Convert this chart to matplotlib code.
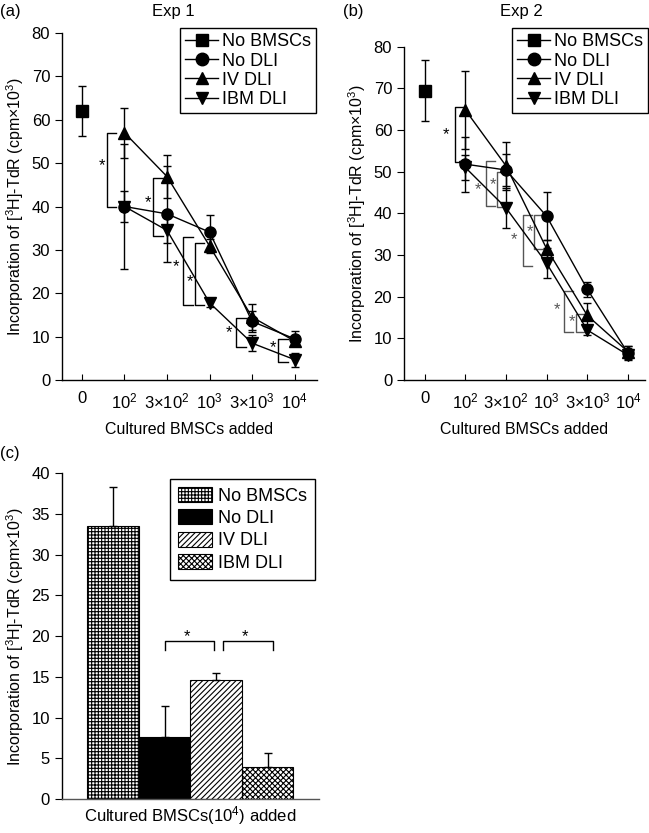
import numpy as np
import matplotlib
matplotlib.use('Agg')
import matplotlib.pyplot as plt
from matplotlib.lines import Line2D

plt.rcParams.update({'font.family': 'Liberation Sans', 'font.size': 12,
                     'mathtext.fontset': 'custom', 'mathtext.rm': 'Liberation Sans',
                     'mathtext.it': 'Liberation Sans:italic',
                     'axes.linewidth': 1.0, 'hatch.linewidth': 0.8})

# ---------------- data ----------------
x_labels = ['0', '10$^2$', '3×10$^2$', '10$^3$', '3×10$^3$', '10$^4$']

# Exp 1
e1_nobmsc, e1_nobmsc_err = 62.0, 5.7
e1_nodli = [40.0, 38.3, 34.1, 13.5, 9.5]
e1_nodli_err = [14.5, 11.0, 4.0, 2.5, 1.7]
e1_iv = [57.0, 46.9, 30.9, 14.5, 9.0]
e1_iv_err = [5.8, 5.0, 1.6, 3.0, 1.0]
e1_ibm = [40.0, 34.5, 17.8, 8.5, 4.7]
e1_ibm_err = [3.6, 3.0, 1.0, 1.8, 1.6]
e1_brackets = [  # (x, y_top, y_bottom, star_x, star_y, color)
    (0.58, 57.0, 40.0, 0.48, 49.5, 'black'),
    (1.68, 46.5, 33.1, 1.55, 41.0, 'black'),
    (2.38, 32.9, 17.3, 2.2, 26.2, 'black'),
    (2.65, 31.5, 17.3, 2.55, 22.7, 'black'),
    (3.63, 14.2, 7.5, 3.45, 11.0, 'black'),
    (4.62, 9.4, 4.2, 4.5, 7.5, 'black'),
]

# Exp 2
e2_nobmsc, e2_nobmsc_err = 69.4, 7.3
e2_nodli = [51.8, 50.4, 39.3, 21.8, 6.5]
e2_nodli_err = [6.6, 3.8, 5.7, 1.8, 1.6]
e2_iv = [64.8, 51.4, 31.5, 15.5, 6.8]
e2_iv_err = [9.4, 5.8, 2.1, 3.1, 1.4]
e2_ibm = [51.0, 41.3, 28.0, 12.0, 6.0]
e2_ibm_err = [3.0, 4.8, 3.6, 1.2, 1.0]
e2_brackets = [
    (0.75, 65.6, 52.2, 0.52, 58.8, 'black'),
    (1.52, 52.6, 41.8, 1.3, 45.8, '#555555'),
    (1.77, 49.8, 41.6, 1.67, 46.8, '#555555'),
    (2.43, 39.6, 27.4, 2.2, 33.6, '#555555'),
    (2.7, 39.6, 31.4, 2.6, 35.6, '#555555'),
    (3.43, 21.4, 11.6, 3.25, 16.8, '#555555'),
    (3.72, 15.8, 11.6, 3.62, 14.0, '#555555'),
]

# Panel c
c_groups = ['No BMSCs', 'No DLI', 'IV DLI', 'IBM DLI']
c_values = [33.5, 7.6, 14.6, 3.9]
c_errors = [4.8, 3.8, 0.9, 1.7]
c_hatches = ['+++++', None, '//////', 'xxxxxx']
c_colors = ['white', 'black', 'white', 'white']

ylab = 'Incorporation of [$^3$H]-TdR (cpm×10$^3$)'
series_labels = ['No BMSCs', 'No DLI', 'IV DLI', 'IBM DLI']
series_markers = ['s', 'o', '^', 'v']

fig = plt.figure(figsize=(6.49, 8.33), dpi=100)


def line_panel(ax, nobmsc, nobmsc_err, nodli, nodli_err, iv, iv_err,
               ibm, ibm_err, brackets):
    xs = np.arange(1, 6)
    kw = dict(color='black', lw=1.0, capsize=3, elinewidth=1.0, capthick=1.0, ms=8)
    ax.errorbar([0], [nobmsc], yerr=[nobmsc_err], marker='s', ls='-', **kw)
    ax.errorbar(xs, nodli, yerr=nodli_err, marker='o', **kw)
    ax.errorbar(xs, iv, yerr=iv_err, marker='^', **kw)
    ax.errorbar(xs, ibm, yerr=ibm_err, marker='v', **kw)
    for bx, yt, yb, sx, sy, col in brackets:
        ax.plot([bx + 0.22, bx, bx, bx + 0.22], [yt, yt, yb, yb], color=col, lw=1.0)
        ax.text(sx, sy, '*', ha='center', va='center', fontsize=12, color=col)
    ax.set_ylim(0, 80)
    ax.set_yticks(range(0, 81, 10))
    ax.set_xticks(range(6))
    ax.set_xticklabels(x_labels)
    ax.tick_params(axis='x', direction='in', length=4, pad=8)
    ax.tick_params(axis='y', direction='out', length=5)
    for s in ('top', 'right'):
        ax.spines[s].set_visible(False)
    ax.set_xlabel('Cultured BMSCs added', labelpad=8, fontsize=11.5)
    ax.set_ylabel(ylab, fontsize=11.5)


def line_legend(anchor):
    handles = [Line2D([], [], color='black', lw=1.0, marker=m, ms=9)
               for m in series_markers]
    fig.legend(handles, series_labels, loc='upper right', bbox_to_anchor=anchor,
               frameon=True, fancybox=False, edgecolor='black', framealpha=1,
               handlelength=1.8, handletextpad=0.2, borderpad=0.3, borderaxespad=0,
               labelspacing=0.12, fontsize=13)


ax1 = fig.add_axes([0.0955, 0.5438, 0.3925, 0.4166])
line_panel(ax1, e1_nobmsc, e1_nobmsc_err, e1_nodli, e1_nodli_err, e1_iv, e1_iv_err,
           e1_ibm, e1_ibm_err, e1_brackets)
ax1.set_xlim(-0.47, 5.52)
line_legend((316 / 649, 1 - 28 / 833))
fig.text(0.0, 0.995, '(a)', ha='left', va='top', fontsize=12)
fig.text(0.267, 0.995, 'Exp 1', ha='center', va='top', fontsize=12)

ax2 = fig.add_axes([0.6225, 0.5438, 0.3713, 0.4002])
line_panel(ax2, e2_nobmsc, e2_nobmsc_err, e2_nodli, e2_nodli_err, e2_iv, e2_iv_err,
           e2_ibm, e2_ibm_err, e2_brackets)
ax2.set_xlim(-0.51, 5.42)
line_legend((648 / 649, 1 - 28 / 833))
fig.text(0.528, 0.995, '(b)', ha='left', va='top', fontsize=12)
fig.text(0.804, 0.995, 'Exp 2', ha='center', va='top', fontsize=12)

# ---------------- panel c ----------------
ax3 = fig.add_axes([0.0951, 0.0408, 0.3964, 0.391])
pos = np.arange(len(c_values))
for i in pos:
    ax3.bar(pos[i], c_values[i], width=1.0, color=c_colors[i], edgecolor='black',
            hatch=c_hatches[i], lw=0.8, label=c_groups[i])
    ax3.errorbar(pos[i], c_values[i], yerr=[[0], [c_errors[i]]], color='black',
                 lw=1.0, capsize=3, capthick=1.0)
for x0, x1 in [(1.0, 1.95), (2.13, 3.1)]:
    ax3.plot([x0, x0, x1, x1], [18.3, 19.4, 19.4, 18.3], color='black', lw=1.0)
    ax3.text((x0 + x1) / 2 - 0.05, 20.0, '*', ha='center', va='center', fontsize=12)
ax3.set_xlim(-1, 4)
ax3.set_ylim(0, 40)
ax3.set_yticks(range(0, 41, 5))
ax3.set_xticks([])
ax3.tick_params(axis='y', direction='out', length=5)
for s in ('top', 'right'):
    ax3.spines[s].set_visible(False)
ax3.spines['bottom'].set_color('#555555')
ax3.set_xlabel('Cultured BMSCs(10$^4$) added', labelpad=4, fontsize=12)
ax3.set_ylabel(ylab, fontsize=11.5)
fig.legend(loc='upper right', bbox_to_anchor=(315 / 649, 1 - 479 / 833), frameon=True,
           fancybox=False, edgecolor='black', framealpha=1, handlelength=1.9,
           handleheight=0.9, handletextpad=0.3, borderpad=0.45, borderaxespad=0,
           labelspacing=0.25, fontsize=13)
fig.text(0.0, 0.455, '(c)', ha='left', va='center', fontsize=12)

fig.savefig('out.png', dpi=100)
